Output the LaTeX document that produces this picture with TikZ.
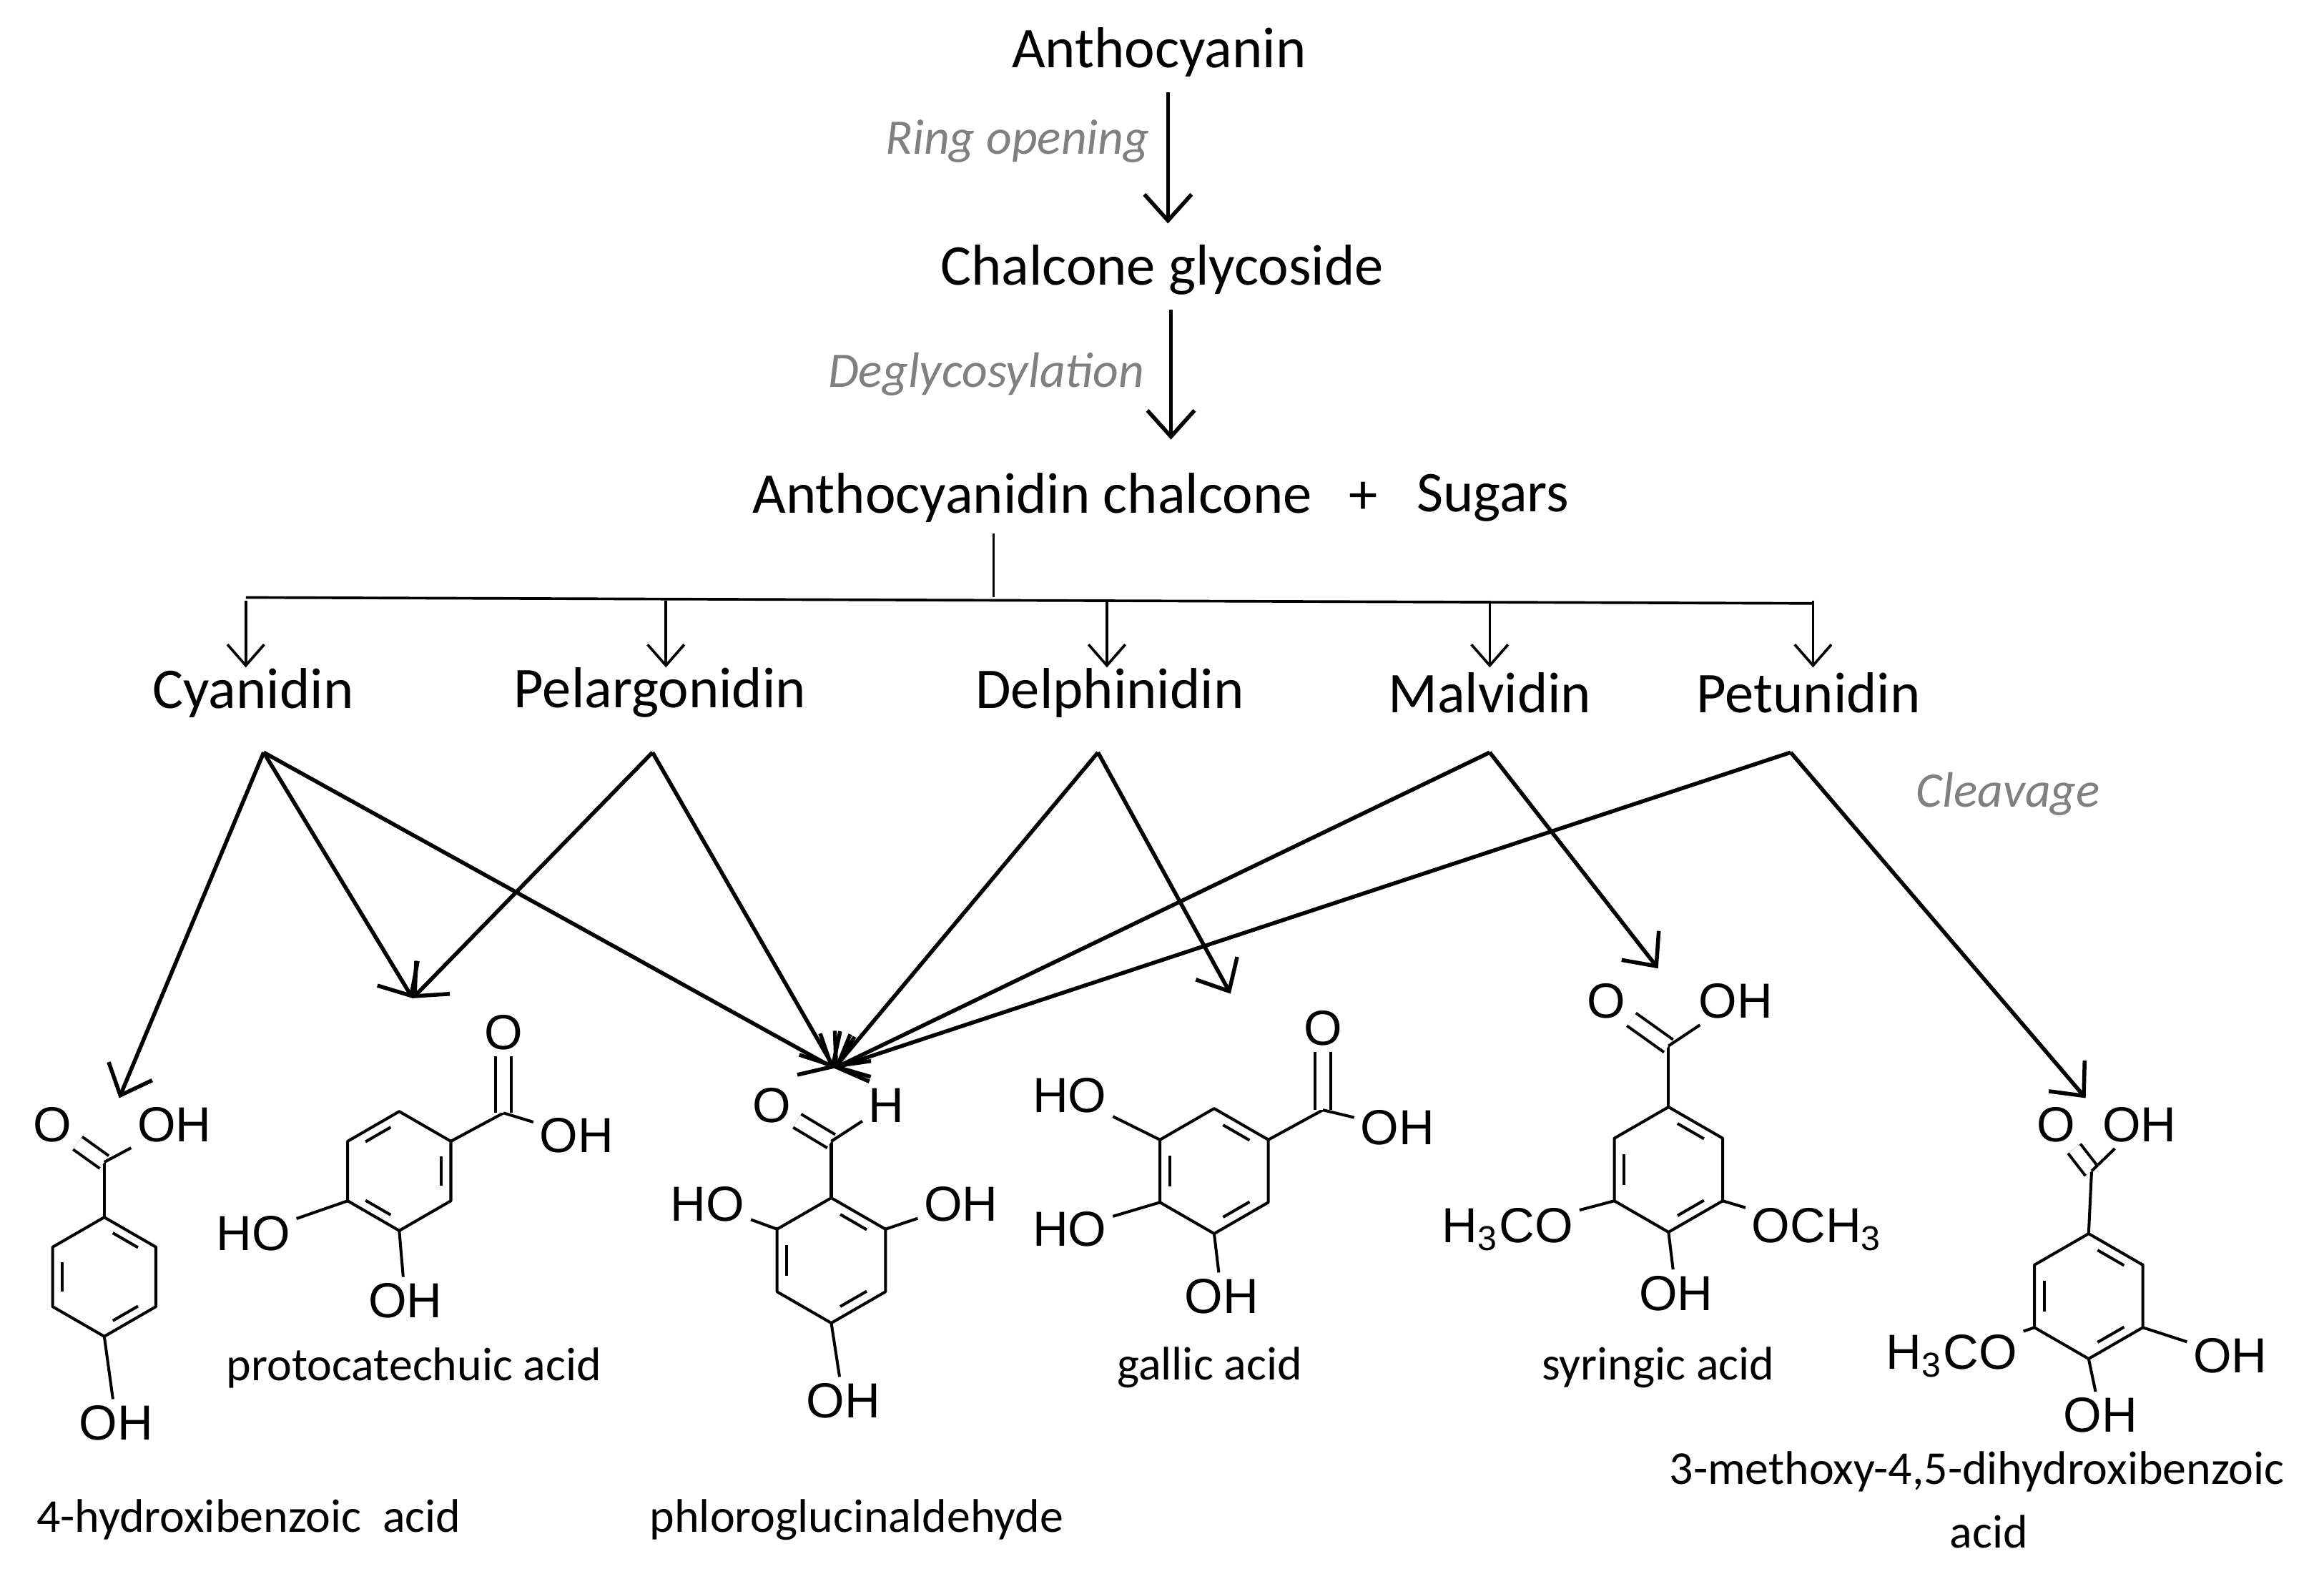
\documentclass[tikz,border=0pt]{standalone}
\usepackage{fontspec}
\setmainfont{Carlito}
\newfontfamily\atomfont{Liberation Sans}
\usetikzlibrary{arrows.meta,calc,positioning}

% benzene ring: center, radius, start angles of the inner bond lines
\newcommand{\benzring}[3]{%
  \draw[bond] (#1) +(270:#2) -- +(330:#2) -- +(30:#2) -- +(90:#2) -- +(150:#2) -- +(210:#2) -- cycle;
  \foreach \s in {#3}
    \draw[bond] ($(#1)+(\s+11:0.75*#2)$) -- ($(#1)+(\s+49:0.75*#2)$);
}

\begin{document}
\begin{tikzpicture}[x=0.01cm,y=-0.01cm,
    stage/.style={font=\fontsize{11}{13}\selectfont, inner sep=1pt},
    cond/.style={font=\fontsize{9.5}{11}\selectfont\itshape, text=black!50, inner sep=1pt},
    molname/.style={font=\fontsize{9}{11}\selectfont, inner sep=1pt},
    atom/.style={font=\fontsize{9.4}{11}\selectfont\atomfont, inner sep=1pt},
    bond/.style={line width=0.55pt, line join=round},
    dbl/.style={bond, double, double distance=2.4pt},
    react/.style={line width=0.75pt, -{Straight Barb[length=5pt,width=9pt]}},
    branch/.style={line width=0.5pt, -{Straight Barb[length=4pt,width=7pt]}}]
  \useasboundingbox (0,0) rectangle (1560,1053);

  % main sequence
  \node[stage] (antho) at (778,35) {Anthocyanin};
  \node[stage] (chalgly) at (780,181) {Chalcone glycoside};
  \node[stage] (chal) at (693,334) {Anthocyanidin chalcone};
  \node[stage] (plus) at (915,334) {+};
  \node[stage] (sugar) at (1002,334) {Sugars};
  \node[cond] (ring) at (683,95) {Ring opening};
  \node[cond] (degly) at (662,251) {Deglycosylation};
  \node[cond] (cleave) at (1348,533) {Cleavage};
  \coordinate (a1) at (784,62); \coordinate (a2) at (784,150);
  \coordinate (b1) at (786,208); \coordinate (b2) at (786,295);
  \draw[react] (a1) -- (a2);
  \draw[react] (b1) -- (b2);

  % anthocyanidins
  \node[stage] (cya) at (170,465) {Cyanidin};
  \node[stage] (pel) at (443,465) {Pelargonidin};
  \node[stage] (del) at (745,465) {Delphinidin};
  \node[stage] (mal) at (1000,465) {Malvidin};
  \node[stage] (pet) at (1214,465) {Petunidin};
  \coordinate (hub) at (667,401);
  \coordinate (stem) at (667,358);
  \coordinate (left) at (165,401);
  \coordinate (right) at (1217,405);
  \draw[line width=0.5pt] (stem) -- (hub);
  \draw[line width=0.5pt] (left) -- (right);
  \foreach \n/\x in {cya/165,pel/447,del/743,mal/1000,pet/1217}
    \draw[branch] (\x,403) -- (\x,448);

  % cleavage arrows
  \coordinate (cyaS) at (177,505);
  \coordinate (pelS) at (438,505);
  \coordinate (delS) at (737,505);
  \coordinate (malS) at (1000,505);
  \coordinate (petS) at (1202,505);
  \coordinate (hydT) at (80,737);
  \coordinate (proT) at (277,670);
  \coordinate (phlT) at (560,717);
  \coordinate (galT) at (826,667);
  \coordinate (syrT) at (1113,650);
  \coordinate (metT) at (1400,737);
  \foreach \s/\t in {cyaS/hydT,cyaS/proT,cyaS/phlT,pelS/proT,pelS/phlT,
      delS/phlT,delS/galT,malS/phlT,malS/syrT,petS/phlT,petS/metT}
    \draw[react] (\s) -- (\t);

  % 4-hydroxibenzoic acid
  \coordinate (hc) at (70,857);
  \benzring{hc}{40}{270,150,30}
  \coordinate (hC) at (70,780);
  \node[atom] (hO) at (35,755) {O};
  \node[atom] (hOH) at (117,755) {OH};
  \node[atom] (hOH2) at (78,955) {OH};
  \draw[bond] ($(hc)+(270:40)$) -- (hC);
  \draw[dbl] (hC) -- (hO);
  \draw[bond] (hC) -- (hOH);
  \draw[bond] ($(hc)+(90:40)$) -- (hOH2);
  \node[molname] (hname) at (167,1020) {4-hydroxibenzoic\ \ acid};

  % protocatechuic acid
  \coordinate (pc) at (268,786);
  \benzring{pc}{40}{210,330,90}
  \coordinate (pC) at (338,747);
  \node[atom] (pO) at (338,693) {O};
  \node[atom] (pOH) at (387,762) {OH};
  \node[atom] (pHO) at (170,828) {HO};
  \node[atom] (pOH2) at (272,873) {OH};
  \draw[bond] ($(pc)+(330:40)$) -- (pC);
  \draw[dbl] (pC) -- (pO);
  \draw[bond] (pC) -- (pOH);
  \draw[bond] ($(pc)+(150:40)$) -- (pHO);
  \draw[bond] ($(pc)+(90:40)$) -- (pOH2);
  \node[molname] (pname) at (278,918) {protocatechuic acid};

  % phloroglucinaldehyde
  \coordinate (fc) at (558,846);
  \benzring{fc}{42}{270,150,30}
  \coordinate (fC) at (558,766);
  \node[atom] (fO) at (518,742) {O};
  \node[atom] (fH) at (595,742) {H};
  \node[atom] (fHO) at (475,808) {HO};
  \node[atom] (fOH) at (645,808) {OH};
  \node[atom] (fOH2) at (566,940) {OH};
  \draw[bond] ($(fc)+(270:42)$) -- (fC);
  \draw[dbl] (fC) -- (fO);
  \draw[bond] (fC) -- (fH);
  \draw[bond] ($(fc)+(210:42)$) -- (fHO);
  \draw[bond] ($(fc)+(330:42)$) -- (fOH);
  \draw[bond] ($(fc)+(90:42)$) -- (fOH2);
  \node[molname] (fname) at (575,1020) {phloroglucinaldehyde};

  % gallic acid
  \coordinate (gc) at (815,786);
  \benzring{gc}{42}{270,150,30}
  \coordinate (gC) at (888,745);
  \node[atom] (gO) at (888,690) {O};
  \node[atom] (gOH) at (938,757) {OH};
  \node[atom] (gHO) at (718,735) {HO};
  \node[atom] (gHO2) at (718,825) {HO};
  \node[atom] (gOH2) at (820,870) {OH};
  \draw[bond] ($(gc)+(330:42)$) -- (gC);
  \draw[dbl] (gC) -- (gO);
  \draw[bond] (gC) -- (gOH);
  \draw[bond] ($(gc)+(210:42)$) -- (gHO);
  \draw[bond] ($(gc)+(150:42)$) -- (gHO2);
  \draw[bond] ($(gc)+(90:42)$) -- (gOH2);
  \node[molname] (gname) at (812,918) {gallic acid};

  % syringic acid
  \coordinate (sc) at (1120,785);
  \benzring{sc}{42}{270,150,30}
  \coordinate (sC) at (1120,702);
  \node[atom] (sO) at (1078,672) {O};
  \node[atom] (sOH) at (1165,672) {OH};
  \node[atom] (sMe) at (1012,825) {H\textsubscript{3}CO};
  \node[atom] (sMe2) at (1220,825) {OCH\textsubscript{3}};
  \node[atom] (sOH2) at (1125,868) {OH};
  \draw[bond] ($(sc)+(270:42)$) -- (sC);
  \draw[dbl] (sC) -- (sO);
  \draw[bond] (sC) -- (sOH);
  \draw[bond] ($(sc)+(150:42)$) -- (sMe);
  \draw[bond] ($(sc)+(30:42)$) -- (sMe2);
  \draw[bond] ($(sc)+(90:42)$) -- (sOH2);
  \node[molname] (sname) at (1113,918) {syringic acid};

  % 3-methoxy-4,5-dihydroxibenzoic acid
  \coordinate (mc) at (1402,870);
  \benzring{mc}{42}{270,150,30}
  \coordinate (mC) at (1404,786);
  \node[atom] (mO) at (1380,755) {O};
  \node[atom] (mOH) at (1436,755) {OH};
  \node[atom] (mMe) at (1310,910) {H\textsubscript{3}CO};
  \node[atom] (mOH2) at (1497,910) {OH};
  \node[atom] (mOH3) at (1410,950) {OH};
  \draw[bond] ($(mc)+(270:42)$) -- (mC);
  \draw[dbl] (mC) -- (mO);
  \draw[bond] (mC) -- (mOH);
  \draw[bond] ($(mc)+(150:42)$) -- (mMe);
  \draw[bond] ($(mc)+(30:42)$) -- (mOH2);
  \draw[bond] ($(mc)+(90:42)$) -- (mOH3);
  \node[molname] (mname) at (1327,988) {3-methoxy-4,5-dihydroxibenzoic};
  \node[molname] (mname2) at (1335,1028) {acid};
\end{tikzpicture}
\end{document}
